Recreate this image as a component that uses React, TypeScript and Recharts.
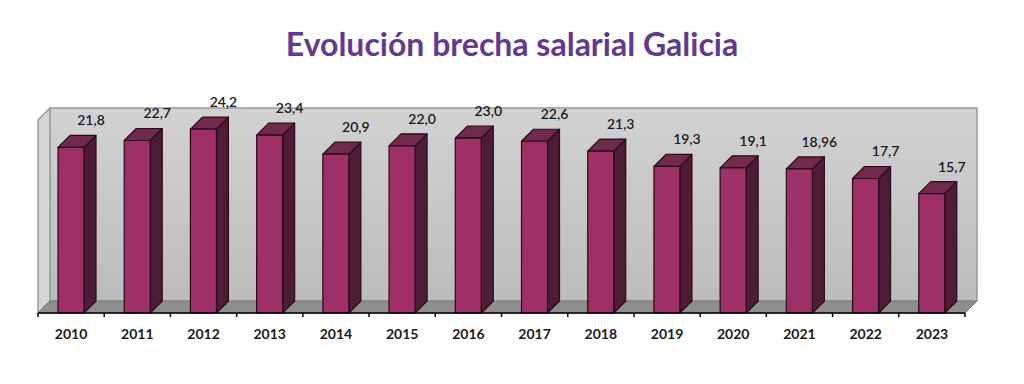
import { BarChart, Bar, XAxis, YAxis, LabelList } from 'recharts'

const years = ['2010', '2011', '2012', '2013', '2014', '2015', '2016', '2017', '2018', '2019', '2020', '2021', '2022', '2023']
const gap = [21.8, 22.7, 24.2, 23.4, 20.9, 22.0, 23.0, 22.6, 21.3, 19.3, 19.1, 18.96, 17.7, 15.7]
const gapLabels = ['21,8', '22,7', '24,2', '23,4', '20,9', '22,0', '23,0', '22,6', '21,3', '19,3', '19,1', '18,96', '17,7', '15,7']

const data = years.map((year, i) => ({ year, value: gap[i], label: gapLabels[i] }))

const W = 1024
const H = 384
const AXIS_H = 30
const M = { top: 85, right: 59, bottom: 41, left: 38 }
const DX = 12
const DY = 12

const plotLeft = M.left
const plotRight = W - M.right
const plotBottom = H - M.bottom - AXIS_H
const wallTop = 108

const Bar3D = (props: any) => {
  const { x, y, width, height } = props
  if (height <= 0) return null
  const stroke = '#2a0a18'
  return (
    <g strokeWidth={1.2} stroke={stroke} strokeLinejoin="round">
      <polygon
        points={`${x + width},${y} ${x + width + DX},${y - DY} ${x + width + DX},${y + height - DY} ${x + width},${y + height}`}
        fill="#4e1c35"
      />
      <polygon
        points={`${x},${y} ${x + DX},${y - DY} ${x + width + DX},${y - DY} ${x + width},${y}`}
        fill="#6f2a4c"
      />
      <rect x={x} y={y} width={width} height={height} fill="#9e2f67" />
    </g>
  )
}

const ValueLabel = (props: any) => {
  const { x, y, width, value } = props
  return (
    <text
      x={x + width / 2 + 20}
      y={y - 22}
      textAnchor="middle"
      fontFamily="Lato, 'Open Sans', sans-serif"
      fontSize={14}
      fontWeight={600}
      fill="#1a1a1a"
    >
      {value}
    </text>
  )
}

const Walls = () => {
  const step = (plotRight - plotLeft) / years.length
  const ticks = Array.from({ length: years.length + 1 }, (_, i) => plotLeft + i * step)
  return (
    <svg width={W} height={H} style={{ position: 'absolute', left: 0, top: 0 }}>
      <defs>
        <linearGradient id="wall" x1="0" y1="0" x2="0" y2="1">
          <stop offset="0" stopColor="#d2d2d2" />
          <stop offset="1" stopColor="#bcbcbc" />
        </linearGradient>
      </defs>
      <rect
        x={plotLeft + DX}
        y={wallTop}
        width={plotRight - plotLeft}
        height={plotBottom - DY - wallTop}
        fill="url(#wall)"
        stroke="#9a9a9a"
        strokeWidth={1.5}
      />
      <polygon
        points={`${plotLeft},${wallTop + DY} ${plotLeft + DX},${wallTop} ${plotLeft + DX},${plotBottom - DY} ${plotLeft},${plotBottom}`}
        fill="#d6d6d6"
        stroke="#9a9a9a"
        strokeWidth={1.5}
      />
      <polygon
        points={`${plotLeft},${plotBottom} ${plotLeft + DX},${plotBottom - DY} ${plotRight + DX},${plotBottom - DY} ${plotRight},${plotBottom}`}
        fill="#8e8e8e"
        stroke="#7a7a7a"
        strokeWidth={1}
      />
      {ticks.map((t, i) => (
        <line key={i} x1={t} y1={plotBottom} x2={t} y2={plotBottom + 4} stroke="#000" strokeWidth={1.5} />
      ))}
    </svg>
  )
}

export default function App() {
  return (
    <div style={{ position: 'absolute', left: 0, top: 0, width: W, height: H, background: '#fff' }}>
      <div
        style={{
          position: 'absolute',
          left: 0,
          top: 24,
          width: W,
          textAlign: 'center',
          fontFamily: "Lato, 'Open Sans', sans-serif",
          fontWeight: 700,
          fontSize: 32,
          color: '#623a92',
        }}
      >
        Evolución brecha salarial Galicia
      </div>
      <Walls />
      <div style={{ position: 'absolute', left: 0, top: 0 }}>
        <BarChart width={W} height={H} data={data} margin={M}>
          <XAxis
            dataKey="year"
            height={AXIS_H}
            axisLine={{ stroke: '#000', strokeWidth: 1.5 }}
            tickLine={false}
            tick={{ fill: '#1a1a1a', fontSize: 14, fontWeight: 700, fontFamily: "Lato, 'Open Sans', sans-serif" }}
            tickMargin={10}
            interval={0}
          />
          <YAxis hide domain={[0, 30]} />
          <Bar dataKey="value" barSize={26} shape={Bar3D} isAnimationActive={false}>
            <LabelList dataKey="label" content={ValueLabel} />
          </Bar>
        </BarChart>
      </div>
    </div>
  )
}
